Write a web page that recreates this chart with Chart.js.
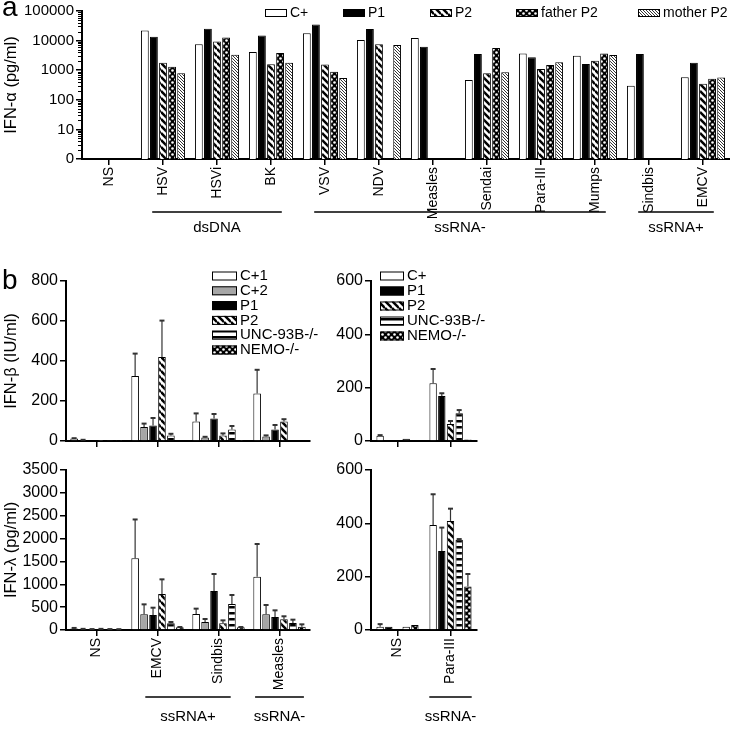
<!DOCTYPE html>
<html>
<head>
<meta charset="utf-8">
<script src="https://cdn.jsdelivr.net/npm/chart.js@4.4.0/dist/chart.umd.min.js"></script>
<style>
  body { margin: 0; background: #fff; }
  #wrap { position: relative; width: 730px; height: 730px; font-family: "Liberation Sans", Arial, sans-serif; }
  #wrap canvas { position: absolute; left: 0; top: 0; }
  .tag { position: absolute; font-size: 28px; line-height: 28px; color: #000; }
</style>
</head>
<body>
<div id="wrap">
  <canvas id="alpha" width="730" height="730"></canvas>
  <canvas id="betaL" width="730" height="730"></canvas>
  <canvas id="lambdaL" width="730" height="730"></canvas>
  <canvas id="betaR" width="730" height="730"></canvas>
  <canvas id="lambdaR" width="730" height="730"></canvas>
  <div class="tag" style="left:2px;top:-7px">a</div>
  <div class="tag" style="left:2px;top:266px">b</div>
</div>
<script>
// ---- panel a : IFN-alpha (pg/ml), log axis ----
const virusesA = ["NS", "HSV", "HSVi", "BK", "VSV", "NDV", "Measles", "Sendai", "Para-III", "Mumps", "Sindbis", "EMCV"];
const alphaCpos   = [null, 22000, 7600, 4100, 17800, 10400, 12300, 470, 3700, 3100, 300, 580];
const alphaP1     = [null, 13500, 25000, 14800, 35000, 24500, 6200, 3500, 2750, 1620, 3500, 1800];
const alphaP2     = [null, 1800, 9300, 1600, 1550, 7600, null, 790, 1100, 2100, null, 350];
const alphaFather = [null, 1300, 12700, 3800, 880, null, null, 5600, 1500, 3700, null, 510];
const alphaMother = [null, 790, 3300, 1800, 550, 7100, null, 850, 1850, 3250, null, 570];
const groupsA = [["HSV", "BK", "dsDNA"], ["VSV", "Mumps", "ssRNA-"], ["Sindbis", "EMCV", "ssRNA+"]];

// ---- panel b left : EMCV / Sindbis / Measles ----
const virusesB = ["NS", "EMCV", "Sindbis", "Measles"];
const betaC1 = [12, 325, 97, 238],   betaC1Sd = [2, 112, 41, 118];
const betaC2 = [5, 70, 18, 22],      betaC2Sd = [1, 17, 3, 6];
const betaP1 = [2, 77, 113, 58],     betaP1Sd = [0, 38, 22, 22];
const betaP2 = [1, 420, 27, 97],     betaP2Sd = [0, 182, 11, 12];
const betaUnc = [2, 28, 58, 4],      betaUncSd = [0, 8, 17, 0];
const betaNemo = [1, 3, 1, 3],       betaNemoSd = [0, 0, 0, 0];

const lamC1 = [35, 1568, 350, 1167],  lamC1Sd = [10, 850, 117, 714];
const lamC2 = [20, 343, 175, 343],    lamC2Sd = [5, 218, 66, 204];
const lamP1 = [15, 328, 853, 284],    lamP1Sd = [5, 160, 372, 146];
const lamP2 = [20, 788, 146, 233],    lamP2Sd = [5, 320, 65, 67];
const lamUnc = [15, 146, 569, 153],   lamUncSd = [5, 29, 197, 73];
const lamNemo = [15, 58, 58, 73],     lamNemoSd = [3, 7, 7, 51];
const groupsBL = [["EMCV", "Sindbis", "ssRNA+"], ["Measles", "Measles", "ssRNA-"]];

// ---- panel b right : Para-III ----
const virusesR = ["NS", "Para-III"];
const rBetaC = [20, 217],   rBetaCSd = [2, 53];
const rBetaP1 = [1, 169],   rBetaP1Sd = [0, 10];
const rBetaP2 = [2, 64],    rBetaP2Sd = [0, 11];
const rBetaUnc = [8, 104],  rBetaUncSd = [0, 12];
const rBetaNemo = [2, 6],   rBetaNemoSd = [0, 0];

const rLamC = [12, 394],    rLamCSd = [10, 115];
const rLamP1 = [12, 296],   rLamP1Sd = [0, 88];
const rLamP2 = [2, 409],    rLamP2Sd = [0, 46];
const rLamUnc = [12, 338],  rLamUncSd = [0, 3];
const rLamNemo = [19, 163], rLamNemoSd = [0, 47];
const groupsBR = [["Para-III", "Para-III", "ssRNA-"]];

const FONT = '"Liberation Sans", Arial, sans-serif';
Chart.defaults.font.family = FONT;
Chart.defaults.color = "#000";
Chart.defaults.animation = false;
Chart.defaults.responsive = false;
Chart.defaults.plugins.legend.display = false;
Chart.defaults.plugins.tooltip.enabled = false;

// fill patterns
function tile(s, paint) {
  const c = document.createElement("canvas");
  c.width = c.height = s;
  const g = c.getContext("2d");
  paint(g, s);
  return g.createPattern(c, "repeat");
}
function diag(s, w) {
  return tile(s, (g) => {
    g.fillStyle = "#fff"; g.fillRect(0, 0, s, s);
    g.strokeStyle = "#000"; g.lineWidth = w;
    for (let k = -1; k <= 1; k++) {
      g.beginPath(); g.moveTo(0, k * s); g.lineTo(s, (k + 1) * s); g.stroke();
    }
  });
}
const stripes = diag(7, 2.5);
const fineStripes = diag(3, 0.8);
const dots = tile(6, (g) => {
  g.fillStyle = "#000"; g.fillRect(0, 0, 6, 6);
  g.fillStyle = "#fff";
  g.beginPath(); g.arc(1.5, 1.5, 1.3, 0, Math.PI * 2); g.fill();
  g.beginPath(); g.arc(4.5, 4.5, 1.3, 0, Math.PI * 2); g.fill();
});
const bands = tile(6, (g) => {
  g.fillStyle = "#fff"; g.fillRect(0, 0, 6, 6);
  g.fillStyle = "#000"; g.fillRect(0, 0, 6, 2.5);
});
const grey = "#a6a6a6";

// plugins
const errorBars = {
  id: "errorBars",
  afterDatasetsDraw(chart) {
    const g = chart.ctx, y = chart.scales.y;
    g.save();
    g.strokeStyle = "#333";
    chart.data.datasets.forEach((ds, i) => {
      if (!ds.err) return;
      chart.getDatasetMeta(i).data.forEach((bar, j) => {
        const e = ds.err[j];
        if (!e) return;
        const top = y.getPixelForValue(ds.data[j] + e);
        g.lineWidth = 1.2;
        g.beginPath(); g.moveTo(bar.x, bar.y); g.lineTo(bar.x, top); g.stroke();
        g.lineWidth = 2;
        g.beginPath(); g.moveTo(bar.x - 2.5, top); g.lineTo(bar.x + 2.5, top); g.stroke();
      });
    });
    g.restore();
  }
};

function brackets(groups, lineY, textY) {
  return {
    id: "brackets",
    afterDraw(chart) {
      const x = chart.scales.x, g = chart.ctx, labels = chart.data.labels;
      const cw = x.width / labels.length;
      g.save();
      g.strokeStyle = "#000"; g.fillStyle = "#000"; g.lineWidth = 1.5;
      g.font = "15px " + FONT; g.textAlign = "center"; g.textBaseline = "middle";
      groups.forEach(([a, b, text]) => {
        const i = labels.indexOf(a), j = labels.indexOf(b);
        const ext = (i === j ? 0.4 : 0.2) * cw;
        const x0 = x.getPixelForValue(i) - ext, x1 = x.getPixelForValue(j) + ext;
        g.beginPath(); g.moveTo(x0, lineY); g.lineTo(x1, lineY); g.stroke();
        g.fillText(text, (x0 + x1) / 2, textY);
      });
      g.restore();
    }
  };
}

function boxLegend(cfg) {
  return {
    id: "boxLegend",
    afterDraw(chart) {
      const g = chart.ctx;
      g.save();
      g.font = cfg.size + "px " + FONT;
      g.textBaseline = "middle";
      chart.data.datasets.forEach((ds, i) => {
        const bx = cfg.xs ? cfg.xs[i] : cfg.x;
        const cy = cfg.xs ? cfg.y : cfg.y + i * cfg.dy;
        g.fillStyle = ds.backgroundColor;
        g.fillRect(bx, cy - cfg.h / 2, cfg.w, cfg.h);
        g.strokeStyle = "#000"; g.lineWidth = 1;
        g.strokeRect(bx + 0.5, cy - cfg.h / 2 + 0.5, cfg.w - 1, cfg.h - 1);
        g.fillStyle = "#000";
        g.fillText(ds.label, bx + cfg.w + 3, cy);
      });
      g.restore();
    }
  };
}

const isDecade = (v) => Math.abs(Math.log10(v) - Math.round(Math.log10(v))) < 1e-9;

const minorTicks = {
  id: "minorTicks",
  afterDraw(chart) {
    const y = chart.scales.y, g = chart.ctx, left = chart.chartArea.left;
    g.save(); g.strokeStyle = "#000"; g.lineWidth = 1;
    for (let d = 1; d < 100000; d *= 10) {
      for (let m = 2; m <= 9; m++) {
        const py = Math.round(y.getPixelForValue(m * d)) + 0.5;
        g.beginPath(); g.moveTo(left - 4, py); g.lineTo(left, py); g.stroke();
      }
    }
    g.restore();
  }
};

const axisLine = { color: "#000", width: 2 };
const tickGrid = { drawOnChartArea: false, tickLength: 6, lineWidth: 1.5, color: "#000" };

// panel a
new Chart(document.getElementById("alpha"), {
  type: "bar",
  data: {
    labels: virusesA,
    datasets: [
      { label: "C+", data: alphaCpos, backgroundColor: "#fff" },
      { label: "P1", data: alphaP1, backgroundColor: "#000" },
      { label: "P2", data: alphaP2, backgroundColor: stripes },
      { label: "father P2", data: alphaFather, backgroundColor: dots },
      { label: "mother P2", data: alphaMother, backgroundColor: fineStripes },
    ].map((d) => ({ ...d, borderColor: "#000", borderWidth: 1, categoryPercentage: 0.84, barPercentage: 0.86 })),
  },
  options: {
    layout: { padding: { left: 0, top: 10, right: 0, bottom: 730 - 159 - 65 } },
    scales: {
      x: {
        afterFit: (s) => { s.height = 65; },
        border: axisLine,
        grid: { ...tickGrid, offset: false },
        ticks: { minRotation: 90, maxRotation: 90, autoSkip: false, padding: 2, font: { size: 14 } },
      },
      y: {
        type: "logarithmic",
        min: 1,
        max: 100000,
        afterFit: (s) => { s.width = 82; },
        border: axisLine,
        grid: {
          ...tickGrid,
          tickColor: (c) => (c.tick && isDecade(c.tick.value) ? "#000" : "rgba(0,0,0,0)"),
        },
        ticks: {
          autoSkip: false,
          padding: 2,
          font: { size: 15 },
          callback: (v) => (isDecade(v) ? (v === 1 ? "0" : String(v)) : ""),
        },
        title: { display: true, text: "IFN-α (pg/ml)", font: { size: 16.5 }, padding: { top: 2, bottom: 0 } },
      },
    },
  },
  plugins: [minorTicks, brackets(groupsA, 212, 228),
    boxLegend({ xs: [265, 343, 430, 516, 638], y: 13, w: 22, h: 8, size: 14 })],
});

// panel b
function panelB(id, area, labels, series, yMax, yStep, title, showX, extra) {
  const yW = title ? area.left : 50;
  const xH = showX ? 66 : 10;
  return new Chart(document.getElementById(id), {
    type: "bar",
    data: {
      labels: labels,
      datasets: series.map(([label, data, err, fill]) => ({
        label, data, err, backgroundColor: fill, borderColor: "#000", borderWidth: 1,
        categoryPercentage: area.cat, barPercentage: 0.85,
      })),
    },
    options: {
      layout: { padding: { left: area.left - yW, top: area.top, right: 730 - area.right, bottom: 730 - area.bottom - xH } },
      scales: {
        x: {
          afterFit: (s) => { s.height = xH; },
          border: axisLine,
          grid: { ...tickGrid, offset: false },
          ticks: { display: showX, minRotation: 90, maxRotation: 90, autoSkip: false, padding: 2, font: { size: 14 } },
        },
        y: {
          min: 0,
          max: yMax,
          afterFit: (s) => { s.width = yW; },
          border: axisLine,
          grid: tickGrid,
          ticks: { stepSize: yStep, autoSkip: false, padding: 2, font: { size: 16 }, callback: (v) => String(v) },
          title: { display: !!title, text: title || "", font: { size: 16.5 }, padding: { top: 2, bottom: 0 } },
        },
      },
    },
    plugins: [errorBars].concat(extra),
  });
}

panelB("betaL", { left: 66, top: 281, right: 310, bottom: 441, cat: 0.88 }, virusesB, [
  ["C+1", betaC1, betaC1Sd, "#fff"],
  ["C+2", betaC2, betaC2Sd, grey],
  ["P1", betaP1, betaP1Sd, "#000"],
  ["P2", betaP2, betaP2Sd, stripes],
  ["UNC-93B-/-", betaUnc, betaUncSd, bands],
  ["NEMO-/-", betaNemo, betaNemoSd, dots],
], 800, 200, "IFN-β (IU/ml)", false,
  [boxLegend({ x: 212, y: 276, dy: 14.8, w: 25, h: 9, size: 15 })]);

panelB("lambdaL", { left: 66, top: 470, right: 310, bottom: 630, cat: 0.88 }, virusesB, [
  ["C+1", lamC1, lamC1Sd, "#fff"],
  ["C+2", lamC2, lamC2Sd, grey],
  ["P1", lamP1, lamP1Sd, "#000"],
  ["P2", lamP2, lamP2Sd, stripes],
  ["UNC-93B-/-", lamUnc, lamUncSd, bands],
  ["NEMO-/-", lamNemo, lamNemoSd, dots],
], 3500, 500, "IFN-λ (pg/ml)", true, [brackets(groupsBL, 697, 717)]);

panelB("betaR", { left: 371, top: 281, right: 477, bottom: 441, cat: 0.82 }, virusesR, [
  ["C+", rBetaC, rBetaCSd, "#fff"],
  ["P1", rBetaP1, rBetaP1Sd, "#000"],
  ["P2", rBetaP2, rBetaP2Sd, stripes],
  ["UNC-93B-/-", rBetaUnc, rBetaUncSd, bands],
  ["NEMO-/-", rBetaNemo, rBetaNemoSd, dots],
], 600, 200, null, false,
  [boxLegend({ x: 380, y: 276, dy: 15, w: 24, h: 9, size: 15 })]);

panelB("lambdaR", { left: 371, top: 470, right: 477, bottom: 630, cat: 0.82 }, virusesR, [
  ["C+", rLamC, rLamCSd, "#fff"],
  ["P1", rLamP1, rLamP1Sd, "#000"],
  ["P2", rLamP2, rLamP2Sd, stripes],
  ["UNC-93B-/-", rLamUnc, rLamUncSd, bands],
  ["NEMO-/-", rLamNemo, rLamNemoSd, dots],
], 600, 200, null, true, [brackets(groupsBR, 697, 717)]);
</script>
</body>
</html>
